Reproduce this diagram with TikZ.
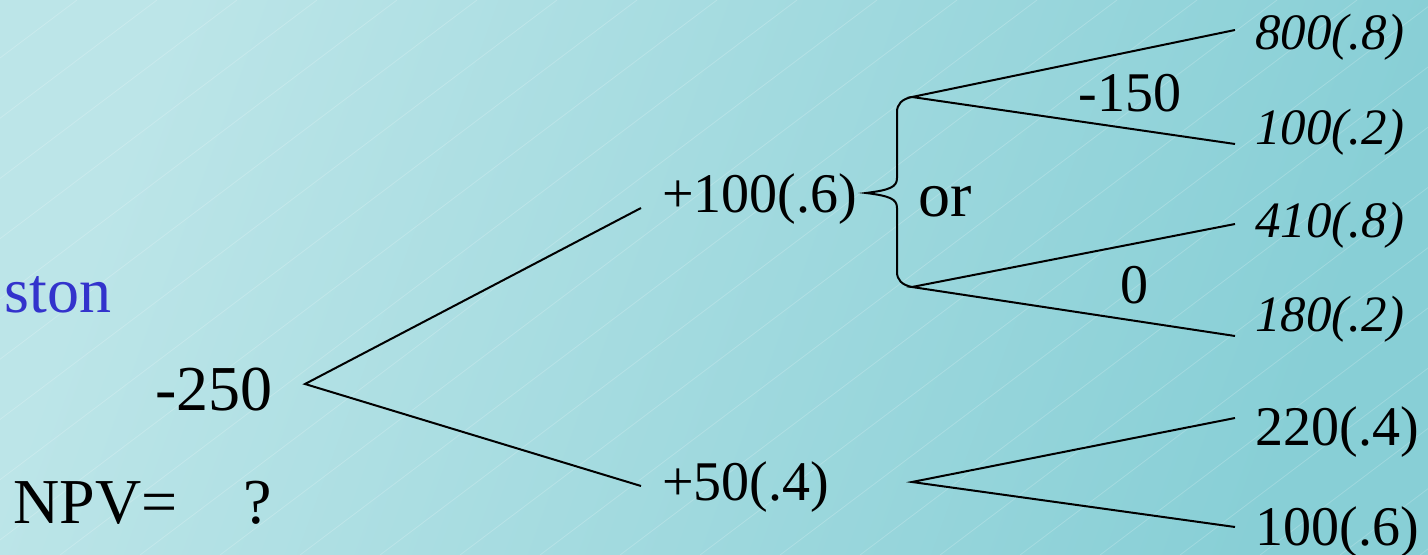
\documentclass[tikz,border=0pt]{standalone}
\usepackage{fontspec}
\setmainfont{Liberation Serif}

\begin{document}
\begin{tikzpicture}[x=0.5pt, y=-0.5pt,
    big/.style={inner sep=0pt, anchor=base west, font=\fontsize{32}{38}\selectfont},
    mid/.style={inner sep=0pt, anchor=base west, font=\fontsize{28}{34}\selectfont},
    outcome/.style={inner sep=0pt, anchor=base west, font=\fontsize{25.5}{30}\selectfont\itshape},
    branch/.style={line width=1pt},
    stripe/.style={white, opacity=0.2, line width=0.4pt}]
    % Define colours
    \definecolor{bgLeft}{HTML}{BCE5E8}
    \definecolor{bgRight}{HTML}{88CFD6}
    \definecolor{textBlue}{HTML}{3333CC}

    % Define picture size
    \def\picWidth{1428}
    \def\picHeight{555}

    % Draw background
    \useasboundingbox (0,0) rectangle (\picWidth,\picHeight);
    \shade[left color=bgLeft, right color=bgRight, shading angle=70] (0,0) rectangle (\picWidth,\picHeight);
    \begin{scope}
        \clip (0,0) rectangle (\picWidth,\picHeight);
        \foreach \k in {-1,...,27}
            \draw[stripe] (77+80*\k,0) -- ++(-737,555);
    \end{scope}

    % Place the texts
    \node[big, textBlue, anchor=base east] (place) at (112,313) {ston};
    \node[big] (cost) at (155,410) {-250};
    \node[big] (npv) at (13,523) {NPV=\hspace{33pt}?};
    \node[mid] (good) at (662,213) {+100(.6)};
    \node[mid] (bad) at (662,500) {+50(.4)};
    \node[big] (choice) at (918,217) {or};
    \node[mid] (costA) at (1078,112) {-150};
    \node[mid] (costB) at (1120,304) {0};
    \node[outcome] (outA) at (1255,50) {800(.8)};
    \node[outcome] (outB) at (1255,145) {100(.2)};
    \node[outcome] (outC) at (1255,238) {410(.8)};
    \node[outcome] (outD) at (1255,332) {180(.2)};
    \node[mid] (outE) at (1255,445) {220(.4)};
    \node[mid] (outF) at (1255,545) {100(.6)};

    % Define coordinates of the branch points
    \coordinate (root) at (305,384);
    \coordinate (goodEnd) at (641,208);
    \coordinate (badEnd) at (641,486);
    \coordinate (tip) at (866,193);
    \coordinate (optA) at (912,97);
    \coordinate (optB) at (912,287);
    \coordinate (badFork) at (912,482);
    \coordinate (endA) at (1235,30);
    \coordinate (endB) at (1235,144);
    \coordinate (endC) at (1235,224);
    \coordinate (endD) at (1235,336);
    \coordinate (endE) at (1235,418);
    \coordinate (endF) at (1235,527);

    % Draw the tree
    \draw[branch] (goodEnd) -- (root) -- (badEnd);
    \draw[branch] (endA) -- (optA) -- (endB);
    \draw[branch] (endC) -- (optB) -- (endD);
    \draw[branch] (endE) -- (badFork) -- (endF);

    % Draw the brace
    \draw[branch] (optA) .. controls (902,99) and (897,104) .. (897,112) -- (897,178)
        .. controls (897,187) and (890,190) .. (tip)
        .. controls (890,196) and (897,199) .. (897,208) -- (897,272)
        .. controls (897,280) and (902,285) .. (optB);

\end{tikzpicture}
\end{document}
